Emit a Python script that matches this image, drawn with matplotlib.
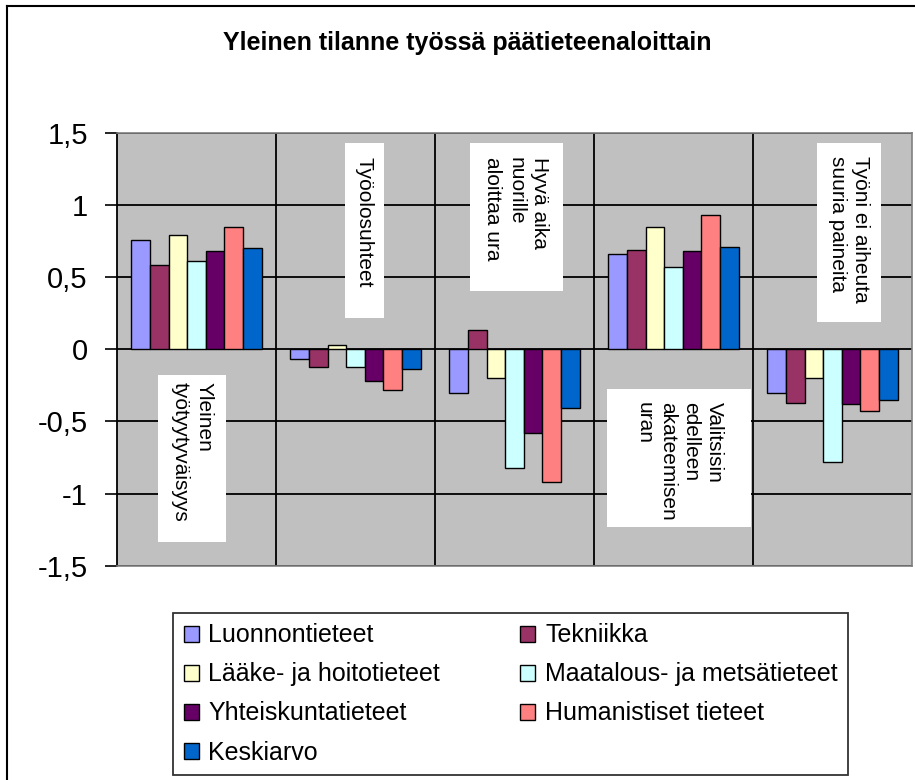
import numpy as np
import matplotlib
matplotlib.use("Agg")
import matplotlib.pyplot as plt
from matplotlib.patches import Rectangle, Patch
from matplotlib.lines import Line2D
from matplotlib.ticker import FuncFormatter

plt.rcParams['font.family'] = ['Liberation Sans', 'DejaVu Sans']

#---------------- datos ----------------
kategoriat = ["Yleinen\ntyötyytyväisyys", "Työolosuhteet",
              "Hyvä aika\nnuorille\naloittaa ura",
              "Valitsisin\nedelleen\nakateemisen\nuran",
              "Työni ei aiheuta\nsuuria paineita"]

luonnontieteet = [0.76, -0.065, -0.30, 0.66, -0.30]
tekniikka      = [0.58, -0.12, 0.13, 0.69, -0.37]
laake          = [0.79, 0.03, -0.20, 0.85, -0.20]
maatalous      = [0.61, -0.12, -0.82, 0.57, -0.78]
yhteiskunta    = [0.68, -0.22, -0.58, 0.68, -0.38]
humanistiset   = [0.85, -0.28, -0.92, 0.93, -0.43]
keskiarvo      = [0.70, -0.14, -0.41, 0.71, -0.35]

sarjat = ["Luonnontieteet", "Tekniikka", "Lääke- ja hoitotieteet",
          "Maatalous- ja metsätieteet", "Yhteiskuntatieteet",
          "Humanistiset tieteet", "Keskiarvo"]
arvot = [luonnontieteet, tekniikka, laake, maatalous, yhteiskunta,
         humanistiset, keskiarvo]
varit = ["#9999FF", "#993366", "#FFFFCC", "#CCFFFF", "#660066",
         "#FF8080", "#0066CC"]

y_ticks = [-1.5, -1, -0.5, 0, 0.5, 1, 1.5]

#---------------- figura ----------------
W, H = 915, 780
fig = plt.figure(figsize=(W / 100, H / 100), dpi=100)

# plot area in pixels
px_l, px_r, px_t, px_b = 117, 912, 132.7, 565.7
ax = fig.add_axes([px_l / W, 1 - px_b / H, (px_r - px_l) / W, (px_b - px_t) / H])
ax.set_facecolor("#C0C0C0")

x = np.arange(len(kategoriat))
bw = 0.117
n = len(sarjat)
for i in range(n):
    ax.bar(x + (i - (n - 1) / 2) * bw, arvot[i], width=bw, color=varit[i],
           edgecolor="black", linewidth=1.0, zorder=3, label=sarjat[i])

ax.set_xlim(-0.5, len(kategoriat) - 0.5)
ax.set_ylim(-1.5, 1.5)
ax.set_yticks(y_ticks)
ax.yaxis.set_major_formatter(FuncFormatter(lambda v, p: f"{v:g}".replace(".", ",")))
ax.tick_params(axis="y", labelsize=21, length=9, width=1.2, direction="out", pad=12)
ax.set_xticks([])
ax.set_xticks(x[:-1] + 0.5, minor=True)
ax.tick_params(axis="x", which="minor", length=0)
ax.grid(axis="y", color="black", linewidth=1.3, zorder=1)
ax.grid(axis="x", which="minor", color="black", linewidth=1.3, zorder=1)
ax.set_axisbelow(True)

for s in ["top", "right", "bottom"]:
    ax.spines[s].set_color("#808080")
    ax.spines[s].set_linewidth(1.2)
ax.spines["left"].set_color("black")
ax.spines["left"].set_linewidth(1.3)

# category label boxes (white, rotated text) - pixel layout
boxes = [(158, 226, 375, 542, 7), (345, 384, 143, 318, 14),
         (470, 563, 143, 291, 14), (607, 751, 389, 527, 13),
         (817, 881, 143, 322, 13)]

def fx(px):
    return (px - px_l) / (px_r - px_l)

def fy(py):
    return (px_b - py) / (px_b - px_t)

for (x0, x1, y0, y1, pad), txt in zip(boxes, kategoriat):
    ax.add_patch(Rectangle((fx(x0), fy(y1)), fx(x1) - fx(x0), fy(y0) - fy(y1),
                           transform=ax.transAxes, facecolor="white",
                           edgecolor="none", zorder=4))
    ax.text(fx((x0 + x1) / 2), fy(y0 + pad), txt, transform=ax.transAxes,
            rotation=270, ha="center", va="top", multialignment="left",
            fontsize=15, linespacing=1.3, zorder=5)

# title
fig.text(467 / W, 1 - 43 / H, "Yleinen tilanne työssä päätieteenaloittain",
         ha="center", va="center", fontsize=18, fontweight="bold")

# legend, row-major order like the original
orden = [0, 2, 4, 6, 1, 3, 5]
handles = [Patch(facecolor=varit[i], edgecolor="black", linewidth=1.0) for i in orden]
labels = [sarjat[i] for i in orden]
leg = fig.legend(handles, labels, ncol=2, loc="upper left",
                 bbox_to_anchor=(173 / W, 1 - 613 / H), fontsize=18,
                 frameon=True, fancybox=False, shadow=False,
                 handlelength=0.6, handleheight=0.6, handletextpad=0.4,
                 columnspacing=3.2, labelspacing=0.6, borderpad=0.42,
                 borderaxespad=0)
leg.get_frame().set_edgecolor("black")
leg.get_frame().set_linewidth(1.3)

# outer chart border (left and top visible)
fig.add_artist(Line2D([7 / W, 7 / W], [0, 1 - 6 / H], color="black", linewidth=1.5))
fig.add_artist(Line2D([7 / W, 1], [1 - 6 / H, 1 - 6 / H], color="black", linewidth=1.5))

fig.savefig("out.png", dpi=100)
